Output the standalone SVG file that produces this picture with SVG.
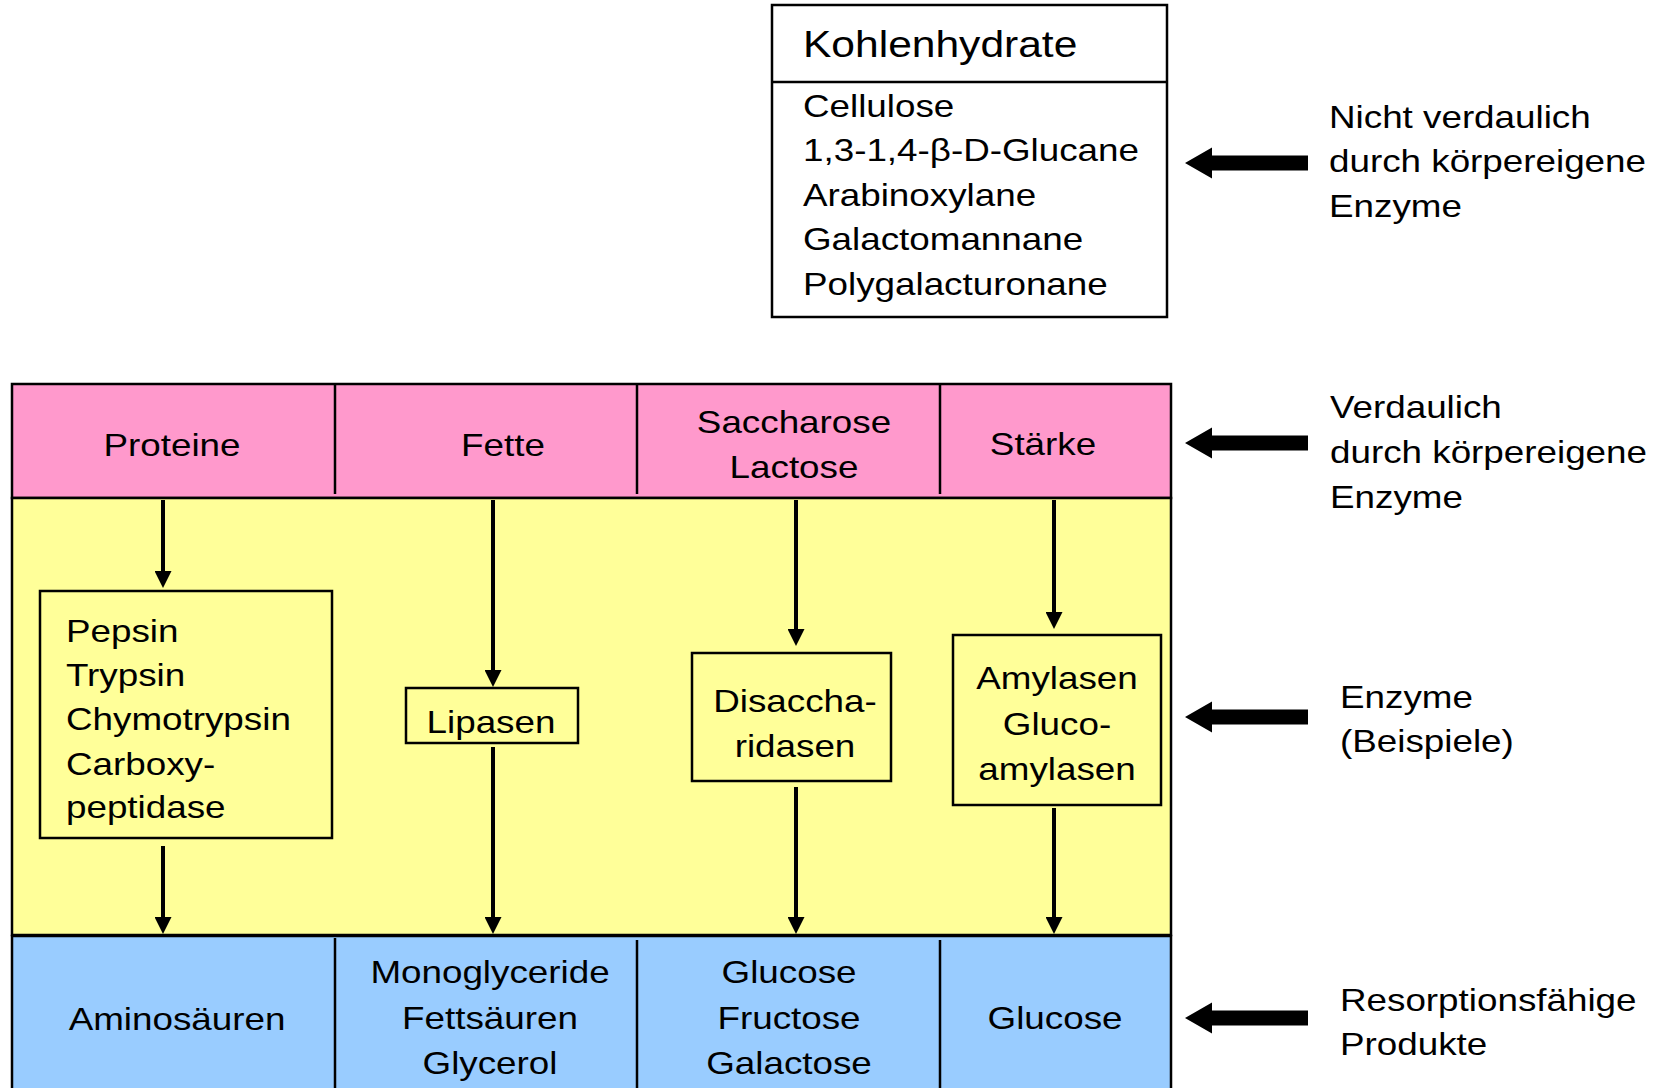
<svg xmlns="http://www.w3.org/2000/svg" width="1668" height="1088" viewBox="0 0 1668 1088">
<style>
.t{font-family:"Liberation Sans",Arial,Helvetica,sans-serif;font-size:32px;fill:#000}
.h{font-size:37px}
.c{text-anchor:middle}
.box{stroke:#000;stroke-width:2.5}
.div{stroke:#000;stroke-width:2.5}
.con{stroke:#000;stroke-width:4;fill:none;marker-end:url(#ah)}
</style>
<defs>
<marker id="ah" markerUnits="userSpaceOnUse" markerWidth="17" markerHeight="17" refX="4" refY="8.5" orient="auto">
<path d="M0,0 L17,8.5 L0,17 z" fill="#000"/>
</marker>
<path id="bigArrow" d="M0,0 L27,-15.5 L27,-7.5 L123,-7.5 L123,7.5 L27,7.5 L27,15.5 z" fill="#000"/>
</defs>
<rect width="1668" height="1088" fill="#fff"/>

<g id="kohlenhydrate">
<rect x="772" y="5" width="395" height="312" fill="#fff" class="box"/>
<line x1="772" y1="82" x2="1167" y2="82" class="div"/>
<text class="t h" transform="translate(803,57) scale(1.15,1)">Kohlenhydrate</text>
<text class="t" transform="translate(803,117) scale(1.15,1)"><tspan x="0" y="0">Cellulose</tspan><tspan x="0" y="44.5">1,3-1,4-β-D-Glucane</tspan><tspan x="0" y="89">Arabinoxylane</tspan><tspan x="0" y="133.5">Galactomannane</tspan><tspan x="0" y="178">Polygalacturonane</tspan></text>
</g>

<g id="row-naehrstoffe">
<rect x="12" y="384" width="1159" height="114" fill="#FF99CC" class="box"/>
<line x1="335" y1="384" x2="335" y2="494" class="div"/>
<line x1="637" y1="384" x2="637" y2="494" class="div"/>
<line x1="940" y1="384" x2="940" y2="494" class="div"/>
</g>
<g id="proteine"><text class="t c" transform="translate(172,456) scale(1.15,1)">Proteine</text></g>
<g id="fette"><text class="t c" transform="translate(503,456) scale(1.15,1)">Fette</text></g>
<g id="saccharose"><text class="t c" transform="translate(794,433) scale(1.15,1)"><tspan x="0" y="0">Saccharose</tspan><tspan x="0" y="45">Lactose</tspan></text></g>
<g id="staerke"><text class="t c" transform="translate(1043,455) scale(1.15,1)">Stärke</text></g>

<g id="row-enzyme">
<rect x="12" y="498" width="1159" height="437" fill="#FFFF99" class="box"/>
</g>

<g id="row-produkte">
<rect x="12" y="936" width="1159" height="170" fill="#99CCFF" class="box"/>
<line x1="335" y1="938" x2="335" y2="1090" class="div"/>
<line x1="637" y1="940" x2="637" y2="1090" class="div"/>
<line x1="940" y1="940" x2="940" y2="1090" class="div"/>
</g>

<g id="pepsin">
<rect x="40" y="591" width="292" height="247" fill="#FFFF99" class="box"/>
<text class="t" transform="translate(66,642) scale(1.15,1)"><tspan x="0" y="0">Pepsin</tspan><tspan x="0" y="44.5">Trypsin</tspan><tspan x="0" y="88">Chymotrypsin</tspan><tspan x="0" y="133">Carboxy-</tspan><tspan x="0" y="176">peptidase</tspan></text>
</g>
<g id="lipasen">
<rect x="406" y="688" width="172" height="55" fill="#FFFF99" class="box"/>
<text class="t c" transform="translate(491,733) scale(1.15,1)">Lipasen</text>
</g>
<g id="disaccharidasen">
<rect x="692" y="653" width="199" height="128" fill="#FFFF99" class="box"/>
<text class="t c" transform="translate(795,712) scale(1.15,1)"><tspan x="0" y="0">Disaccha-</tspan><tspan x="0" y="45">ridasen</tspan></text>
</g>
<g id="amylasen">
<rect x="953" y="635" width="208" height="170" fill="#FFFF99" class="box"/>
<text class="t c" transform="translate(1057,689) scale(1.15,1)"><tspan x="0" y="0">Amylasen</tspan><tspan x="0" y="46">Gluco-</tspan><tspan x="0" y="91">amylasen</tspan></text>
</g>

<g id="aminosaeuren"><text class="t c" transform="translate(177,1030) scale(1.15,1)">Aminosäuren</text></g>
<g id="monoglyceride"><text class="t c" transform="translate(490,983) scale(1.15,1)"><tspan x="0" y="0">Monoglyceride</tspan><tspan x="0" y="46">Fettsäuren</tspan><tspan x="0" y="91">Glycerol</tspan></text></g>
<g id="glucose-fructose"><text class="t c" transform="translate(789,983) scale(1.15,1)"><tspan x="0" y="0">Glucose</tspan><tspan x="0" y="46">Fructose</tspan><tspan x="0" y="91">Galactose</tspan></text></g>
<g id="glucose"><text class="t c" transform="translate(1055,1029) scale(1.15,1)">Glucose</text></g>

<g id="connectors">
<line x1="163" y1="500" x2="163" y2="575" class="con"/>
<line x1="163" y1="846" x2="163" y2="921" class="con"/>
<line x1="493" y1="500" x2="493" y2="674" class="con"/>
<line x1="493" y1="747" x2="493" y2="921" class="con"/>
<line x1="796" y1="500" x2="796" y2="633" class="con"/>
<line x1="796" y1="787" x2="796" y2="921" class="con"/>
<line x1="1054" y1="500" x2="1054" y2="616" class="con"/>
<line x1="1054" y1="808" x2="1054" y2="921" class="con"/>
</g>

<g id="pointers">
<use href="#bigArrow" x="1185" y="163"/>
<use href="#bigArrow" x="1185" y="443"/>
<use href="#bigArrow" x="1185" y="717"/>
<use href="#bigArrow" x="1185" y="1018"/>
</g>

<g id="labels">
<text class="t" transform="translate(1329,128) scale(1.15,1)"><tspan x="0" y="0">Nicht verdaulich</tspan><tspan x="0" y="44.5">durch körpereigene</tspan><tspan x="0" y="89">Enzyme</tspan></text>
<text class="t" transform="translate(1330,418) scale(1.15,1)"><tspan x="0" y="0">Verdaulich</tspan><tspan x="0" y="45">durch körpereigene</tspan><tspan x="0" y="90">Enzyme</tspan></text>
<text class="t" transform="translate(1340,708) scale(1.15,1)"><tspan x="0" y="0">Enzyme</tspan><tspan x="0" y="44">(Beispiele)</tspan></text>
<text class="t" transform="translate(1340,1011) scale(1.15,1)"><tspan x="0" y="0">Resorptionsfähige</tspan><tspan x="0" y="44">Produkte</tspan></text>
</g>
</svg>
